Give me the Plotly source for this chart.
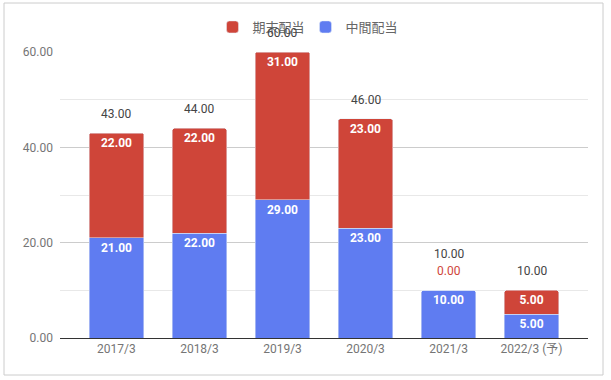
import plotly.graph_objects as go

categories = ["2017/3", "2018/3", "2019/3", "2020/3", "2021/3", "2022/3 (予)"]
interim = [21, 22, 29, 23, 10, 5]      # 中間配当
year_end = [22, 22, 31, 23, 0, 5]      # 期末配当
totals = [a + b for a, b in zip(interim, year_end)]
y_ticks = [0, 20, 40, 60]

BLUE = "#5F7CF1"
RED = "#CF4539"
FONT = "Roboto, 'Noto Sans CJK JP', sans-serif"

def lbl(v):
    return f"{v:.2f}" if v != 0 else ""

fig = go.Figure()
fig.add_trace(go.Bar(
    x=categories, y=interim, name="中間配当", marker_color=BLUE,
    text=[lbl(v) for v in interim], textposition="inside", insidetextanchor="end",
    textangle=0,
    textfont=dict(color="white", size=12, family=FONT, weight="bold"),
    hoverinfo="skip",
))
fig.add_trace(go.Bar(
    x=categories, y=year_end, name="期末配当", marker_color=RED,
    text=[lbl(v) for v in year_end], textposition="inside", insidetextanchor="end",
    textangle=0,
    textfont=dict(color="white", size=12, family=FONT, weight="bold"),
    hoverinfo="skip",
))

annotations = []
for c, t, e in zip(categories, totals, year_end):
    shift = 19
    if e == 0:
        annotations.append(dict(x=c, y=t, text=f"{e:.2f}", showarrow=False,
                                yanchor="middle", yshift=19,
                                font=dict(color=RED, size=12, family=FONT)))
        shift = 36
    annotations.append(dict(x=c, y=t, text=f"{t:.2f}", showarrow=False,
                            yanchor="middle", yshift=shift,
                            font=dict(color="#444444", size=12, family=FONT)))

fig.update_layout(
    width=611, height=380,
    margin=dict(l=60, r=23, t=52, b=42, autoexpand=False),
    paper_bgcolor="white", plot_bgcolor="white",
    barmode="stack", bargap=0.34, barcornerradius=3,
    font=dict(family=FONT, size=12, color="#757575"),
    showlegend=True,
    legend=dict(orientation="h", traceorder="reversed",
                xref="container", yref="container",
                x=0.5, xanchor="center", y=1 - 27 / 380, yanchor="middle",
                bgcolor="rgba(0,0,0,0)",
                font=dict(size=13, color="#666666", family=FONT),
                itemwidth=30, tracegroupgap=0, entrywidth=48),
    annotations=annotations,
    xaxis=dict(range=[-0.68, 5.68], showgrid=False, ticks="",
               tickfont=dict(size=12, color="#757575"),
               showline=True, linecolor="#333333", linewidth=1, fixedrange=True),
    yaxis=dict(range=[0, 60], tickvals=y_ticks, ticktext=[f"{v:.2f}" for v in y_ticks],
               showgrid=True, gridcolor="#CCCCCC", gridwidth=1,
               minor=dict(dtick=10, showgrid=True, gridcolor="#E8E8E8", gridwidth=1),
               zeroline=False, ticks="", ticklabelstandoff=6,
               tickfont=dict(size=12, color="#757575"), fixedrange=True),
    shapes=[dict(type="rect", xref="paper", yref="paper",
                 x0=(4 - 60) / 528, x1=(603 - 60) / 528,
                 y0=(338 - 375) / 286, y1=(338 - 3) / 286,
                 line=dict(color="#CCCCCC", width=1), layer="below")],
)

fig.write_html("out.html", config={"displayModeBar": False},
               post_script="document.body.style.margin='0';document.body.style.overflow='hidden';")
